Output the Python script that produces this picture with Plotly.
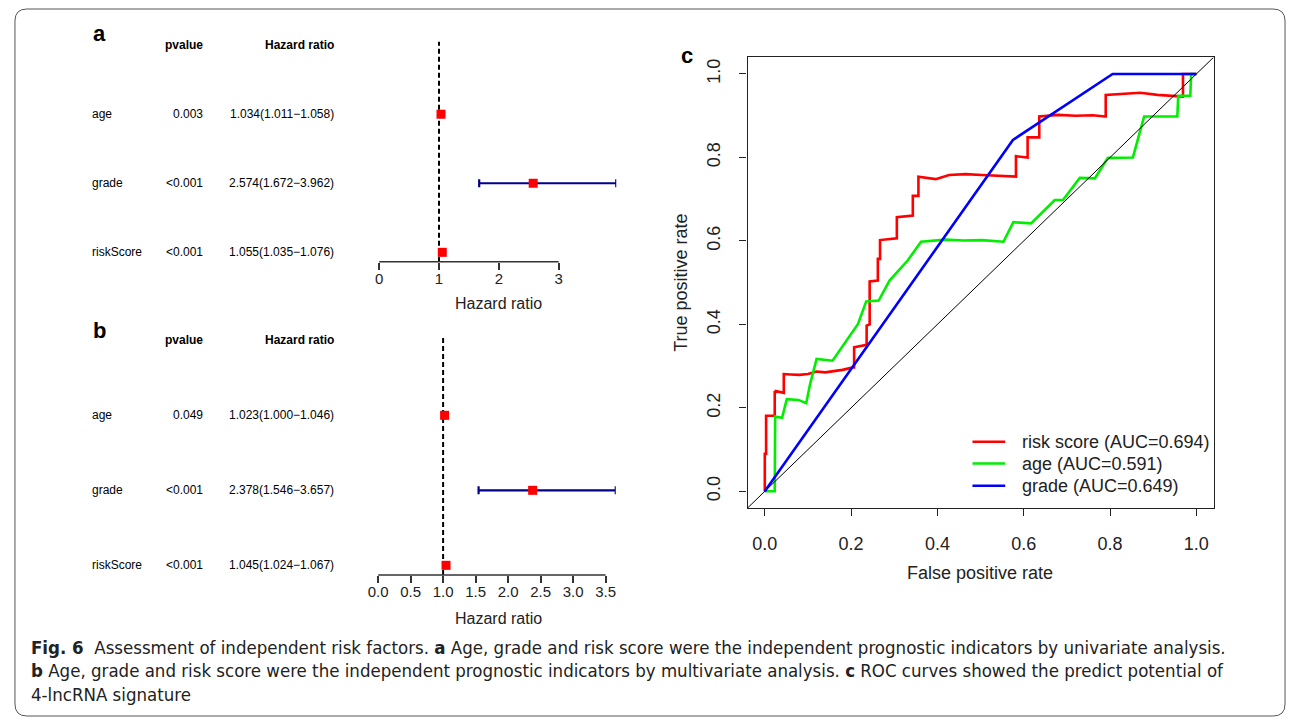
import plotly.graph_objects as go

W, H = 1290, 722

# ---------------- data ----------------
# Forest plot a (univariate)
rows = ["age", "grade", "riskScore"]
a_pvalue = ["0.003", "<0.001", "<0.001"]
a_hr = [1.034, 2.574, 1.055]
a_low = [1.011, 1.672, 1.035]
a_high = [1.058, 3.962, 1.076]
a_ticks = [0, 1, 2, 3]

# Forest plot b (multivariate)
b_pvalue = ["0.049", "<0.001", "<0.001"]
b_hr = [1.023, 2.378, 1.045]
b_low = [1.000, 1.546, 1.024]
b_high = [1.046, 3.657, 1.067]
b_ticks = [0.0, 0.5, 1.0, 1.5, 2.0, 2.5, 3.0, 3.5]

# ROC curves
risk_fpr = [0, 0, 0.003, 0.003, 0.023, 0.023, 0.026, 0.026, 0.044, 0.044, 0.06, 0.08, 0.10, 0.12,
            0.14, 0.16, 0.18, 0.205, 0.207, 0.207, 0.234, 0.236, 0.236, 0.243, 0.243, 0.262,
            0.262, 0.267, 0.267, 0.304, 0.306, 0.306, 0.343, 0.343, 0.356, 0.356, 0.396, 0.427,
            0.465, 0.503, 0.54, 0.580, 0.582, 0.582, 0.607, 0.609, 0.609, 0.636, 0.636, 0.68,
            0.72, 0.76, 0.789, 0.790, 0.790, 0.83, 0.87, 0.91, 0.969, 0.969, 1.0]
risk_tpr = [0, 0.09, 0.09, 0.181, 0.181, 0.238, 0.238, 0.24, 0.236, 0.281, 0.28, 0.279, 0.281, 0.287,
            0.285, 0.288, 0.291, 0.297, 0.297, 0.345, 0.351, 0.351, 0.397, 0.40, 0.503, 0.505,
            0.557, 0.557, 0.602, 0.606, 0.606, 0.657, 0.661, 0.708, 0.708, 0.754, 0.748, 0.758,
            0.760, 0.758, 0.756, 0.754, 0.754, 0.803, 0.800, 0.800, 0.848, 0.848, 0.898, 0.902,
            0.900, 0.901, 0.898, 0.898, 0.950, 0.953, 0.955, 0.950, 0.946, 1.0, 1.0]

age_fpr = [0, 0.023, 0.024, 0.040, 0.051, 0.078, 0.096, 0.105, 0.120, 0.157, 0.216, 0.235, 0.264,
           0.289, 0.331, 0.362, 0.419, 0.461, 0.503, 0.553, 0.576, 0.617, 0.672, 0.691, 0.730,
           0.765, 0.795, 0.825, 0.853, 0.879, 0.956, 0.958, 0.986, 0.988, 1.0]
age_tpr = [0, 0, 0.179, 0.176, 0.221, 0.219, 0.211, 0.257, 0.317, 0.313, 0.401, 0.455, 0.457,
           0.505, 0.553, 0.598, 0.603, 0.601, 0.602, 0.598, 0.645, 0.642, 0.698, 0.698, 0.751,
           0.750, 0.799, 0.799, 0.800, 0.898, 0.898, 0.948, 0.948, 1.0, 1.0]

grade_fpr = [0, 0.575, 0.806, 1.0]
grade_tpr = [0, 0.842, 1.0, 1.0]

roc_names = ["risk score (AUC=0.694)", "age (AUC=0.591)", "grade (AUC=0.649)"]
roc_colors = ["#FF0000", "#00EE00", "#0000FF"]
roc_ticks = [0.0, 0.2, 0.4, 0.6, 0.8, 1.0]
roc_range = [-0.04, 1.04]

caption_lines = [
    "<b>Fig. 6</b>\u00a0\u00a0Assessment of independent risk factors. <b>a</b> Age, grade and risk score were the independent prognostic indicators by univariate analysis.",
    "<b>b</b> Age, grade and risk score were the independent prognostic indicators by multivariate analysis. <b>c</b> ROC curves showed the predict potential of",
    "4-lncRNA signature",
]

# ---------------- helpers ----------------
def fx(px):
    return px / W

def fy(py):
    return 1 - py / H

FONT = "Liberation Sans, Arial, sans-serif"
row_y = [3, 2, 1]
header_y = 4

fig = go.Figure()

# ROC traces
for fpr, tpr, col, name in zip([risk_fpr, age_fpr, grade_fpr], [risk_tpr, age_tpr, grade_tpr],
                               roc_colors, roc_names):
    fig.add_trace(go.Scatter(x=fpr, y=tpr, mode="lines", name=name,
                             line=dict(color=col, width=2.6), xaxis="x", yaxis="y",
                             showlegend=False))
fig.add_trace(go.Scatter(x=roc_range, y=roc_range, mode="lines", line=dict(color="black", width=1),
                         xaxis="x", yaxis="y", showlegend=False, hoverinfo="skip"))

# Forest traces
def forest(hr, low, high, xa, ya):
    fig.add_trace(go.Scatter(
        x=hr, y=row_y, mode="markers", xaxis=xa, yaxis=ya, showlegend=False,
        marker=dict(symbol="square", size=9, color="#FF0000"),
        error_x=dict(type="data", symmetric=False,
                     array=[h - m for h, m in zip(high, hr)],
                     arrayminus=[m - l for m, l in zip(hr, low)],
                     color="#00008B", thickness=2.2, width=4),
        cliponaxis=False))

forest(a_hr, a_low, a_high, "x2", "y2")
forest(b_hr, b_low, b_high, "x3", "y3")

axis_font = dict(family=FONT, size=18, color="#222")
fig.update_layout(
    width=W, height=H, margin=dict(l=0, r=0, t=0, b=0),
    paper_bgcolor="white", plot_bgcolor="white", showlegend=False,
    font=dict(family=FONT, color="black"),
    xaxis=dict(domain=[fx(743.3), fx(1213)], range=roc_range, anchor="y",
               tickvals=roc_ticks, ticktext=[f"{v:.1f}" for v in roc_ticks],
               ticks="outside", ticklen=7, tickcolor="#222", tickfont=axis_font,
               ticklabelstandoff=12,
               showline=True, mirror=True, linecolor="#222", linewidth=1.2,
               showgrid=False, zeroline=False),
    yaxis=dict(domain=[fy(508), fy(57.3)], range=roc_range, anchor="x",
               tickvals=roc_ticks, ticktext=[f"{v:.1f}" for v in roc_ticks],
               ticks="outside", ticklen=7, tickcolor="#222", tickfont=axis_font,
               tickangle=-90, ticklabelstandoff=12,
               showline=True, mirror=True, linecolor="#222", linewidth=1.2,
               showgrid=False, zeroline=False),
    xaxis2=dict(domain=[fx(372), fx(611)], range=[0, max(a_high)], anchor="y2",
                tickvals=a_ticks, ticktext=[str(v) for v in a_ticks],
                ticks="outside", ticklen=7, tickcolor="#333", tickwidth=1.5,
                tickfont=dict(family=FONT, size=15, color="#222"), ticklabelstandoff=-4,
                showline=False, showgrid=False, zeroline=False),
    yaxis2=dict(domain=[fy(261.7), fy(41.7)], range=[0.864, 4.05], anchor="x2", visible=False),
    xaxis3=dict(domain=[fx(371), fx(610.5)], range=[0, max(b_high)], anchor="y3",
                tickvals=b_ticks, ticktext=[f"{v:.1f}" for v in b_ticks],
                ticks="outside", ticklen=7, tickcolor="#333", tickwidth=1.5,
                tickfont=dict(family=FONT, size=15, color="#222"), ticklabelstandoff=-4,
                showline=False, showgrid=False, zeroline=False),
    yaxis3=dict(domain=[fy(575), fy(336.7)], range=[0.871, 4.048], anchor="x3", visible=False),
)

shapes = []
# forest axis lines and reference lines
for xa, ya, ticks in [("x2", "y2", a_ticks), ("x3", "y3", b_ticks)]:
    shapes.append(dict(type="line", xref=xa, yref=f"{ya} domain", x0=min(ticks), x1=max(ticks),
                       y0=0, y1=0, line=dict(color="#333", width=1.5)))
    shapes.append(dict(type="line", xref=xa, yref=f"{ya} domain", x0=1, x1=1, y0=0, y1=1,
                       line=dict(color="black", width=2, dash="5px,3px"), layer="below"))

# ROC legend keys (drawn like R's legend: short line + label)
leg_rows = [441.7, 463.5, 485.7]
for col, ly in zip(roc_colors, leg_rows):
    shapes.append(dict(type="line", xref="paper", yref="paper", x0=fx(970), x1=fx(1003),
                       y0=fy(ly), y1=fy(ly), line=dict(color=col, width=2.6)))

# rounded outer frame
L, R_, T, B, r = 5, 1285, 9, 716, 12
rx, ry = r / W, r / H
path = (f"M {fx(L)+rx},{fy(T)} L {fx(R_)-rx},{fy(T)} Q {fx(R_)},{fy(T)} {fx(R_)},{fy(T)-ry} "
        f"L {fx(R_)},{fy(B)+ry} Q {fx(R_)},{fy(B)} {fx(R_)-rx},{fy(B)} "
        f"L {fx(L)+rx},{fy(B)} Q {fx(L)},{fy(B)} {fx(L)},{fy(B)+ry} "
        f"L {fx(L)},{fy(T)-ry} Q {fx(L)},{fy(T)} {fx(L)+rx},{fy(T)} Z")
shapes.append(dict(type="path", xref="paper", yref="paper", path=path,
                   line=dict(color="#555", width=1), layer="below"))
fig.update_layout(shapes=shapes)

ann = []

def add(text, x, y, xanchor="center", yanchor="middle", xref="paper", yref="paper", **kw):
    ann.append(dict(text=text, x=x, y=y, xref=xref, yref=yref, xanchor=xanchor,
                    yanchor=yanchor, showarrow=False, **kw))

small = dict(family=FONT, size=12, color="black")
for ya, pvals, hr, low, high in [("y2", a_pvalue, a_hr, a_low, a_high), ("y3", b_pvalue, b_hr, b_low, b_high)]:
    add("<b>pvalue</b>", fx(197), header_y, xanchor="right", yref=ya, font=small)
    add("<b>Hazard ratio</b>", fx(329), header_y, xanchor="right", yref=ya, font=small)
    for i, name in enumerate(rows):
        add(name, fx(81), row_y[i], xanchor="left", yref=ya, font=small)
        add(pvals[i], fx(197), row_y[i], xanchor="right", yref=ya, font=small)
        add(f"{hr[i]:.3f}({low[i]:.3f}\u2212{high[i]:.3f})", fx(329), row_y[i],
            xanchor="right", yref=ya, font=small)

# axis titles
add("Hazard ratio", fx(492), fy(303), font=dict(family=FONT, size=16, color="#222"))
add("Hazard ratio", fx(492), fy(618), font=dict(family=FONT, size=16, color="#222"))
add("False positive rate", fx(978), fy(573), font=dict(family=FONT, size=18, color="#222"))
add("True positive rate", fx(676), fy(283), textangle=-90, font=dict(family=FONT, size=18, color="#222"))

# legend labels
for name, ly in zip(roc_names, leg_rows):
    add(name, fx(1018), fy(ly), xanchor="left", font=dict(family=FONT, size=18, color="#222"))

# panel labels
for lab, x, y in [("a", 90, 33), ("b", 90, 331), ("c", 682, 55)]:
    add(f"<b>{lab}</b>", fx(x), fy(y), font=dict(family=FONT, size=22, color="black"))

# caption
cap_font = dict(family="Liberation Sans Narrow, Arial Narrow, DejaVu Sans Condensed, sans-serif",
                size=18.5, color="#222")
for i, line in enumerate(caption_lines):
    add(line, fx(19), fy(647 + 23.5 * i), xanchor="left", font=cap_font)

fig.update_layout(annotations=ann)
fig.write_html("out.html")
